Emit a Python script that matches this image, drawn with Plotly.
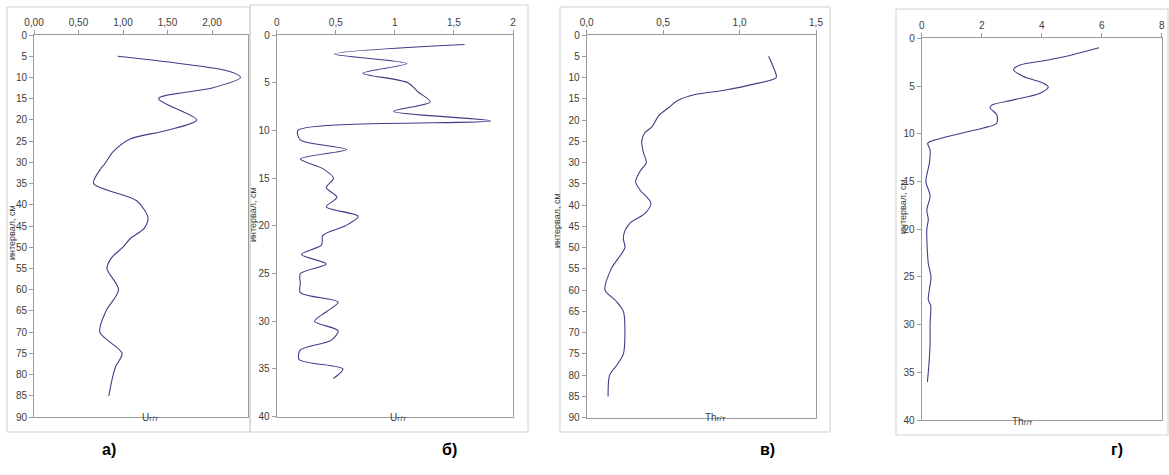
import plotly.graph_objects as go

W, H = 1169, 475

# --- data: depth interval (cm) and concentration (g/t) ---
a_depth = [5, 8.6, 10, 12.5, 15, 20, 22.5, 24.5, 27.5, 30.5, 31.5, 35, 39, 43, 45.5, 48, 50, 52.5, 55, 60, 65, 70, 75, 78, 80, 85]
a_u = [0.94, 2.20, 2.32, 2.0, 1.40, 1.83, 1.49, 1.08, 0.89, 0.79, 0.75, 0.67, 1.15, 1.28, 1.24, 1.08, 1.0, 0.87, 0.82, 0.95, 0.81, 0.74, 0.99, 0.92, 0.89, 0.84]

b_depth = list(range(1, 37))
b_u = [1.59, 0.49, 1.10, 0.73, 1.11, 1.20, 1.30, 0.99, 1.81, 0.18,
       0.20, 0.59, 0.20, 0.39, 0.48, 0.42, 0.51, 0.42, 0.69, 0.58,
       0.39, 0.38, 0.21, 0.42, 0.20, 0.20, 0.20, 0.52, 0.42, 0.32,
       0.52, 0.46, 0.20, 0.19, 0.56, 0.48]

c_depth = [5, 7.5, 10, 11.5, 13, 14, 15.5, 17, 19, 21.5, 23, 25, 27.5, 30, 32, 34.5, 36.5, 39.5, 42, 44, 46, 48, 50, 55, 60, 62.5, 65, 70, 75, 77.5, 80, 85]
c_th = [1.19, 1.22, 1.24, 1.10, 0.90, 0.71, 0.59, 0.54, 0.47, 0.43, 0.38, 0.36, 0.37, 0.39, 0.35, 0.32, 0.35, 0.42, 0.38, 0.29, 0.25, 0.24, 0.25, 0.16, 0.12, 0.19, 0.24, 0.25, 0.24, 0.20, 0.15, 0.14]

d_depth = [1, 1.75, 2.3, 2.8, 3.3, 4.0, 4.7, 5.1, 5.75, 6.45, 7.0, 7.3, 8.0, 8.9, 9.4, 9.9, 10.6, 11, 11.7, 13, 15, 16.5, 18, 19, 20, 23.6, 25, 27.4, 28, 30, 32, 35, 36]
d_th = [5.91, 5.0, 4.17, 3.28, 3.06, 3.39, 4.06, 4.22, 3.94, 3.06, 2.33, 2.28, 2.5, 2.5, 2.06, 1.39, 0.5, 0.2, 0.28, 0.26, 0.14, 0.28, 0.17, 0.22, 0.17, 0.22, 0.31, 0.22, 0.30, 0.28, 0.28, 0.22, 0.19]

# tick values / labels
a_xt = [0, 0.5, 1.0, 1.5, 2.0]
a_xl = ["0,00", "0,50", "1,00", "1,50", "2,00"]
b_xt = [0, 0.5, 1, 1.5, 2]
b_xl = ["0", "0,5", "1", "1,5", "2"]
c_xt = [0, 0.5, 1.0, 1.5]
c_xl = ["0,0", "0,5", "1,0", "1,5"]
d_xt = [0, 2, 4, 6, 8]
d_xl = ["0", "2", "4", "6", "8"]
y90 = list(range(0, 95, 5))
y40 = list(range(0, 45, 5))

y_title = "интервал, см"
u_title = "U<span style='font-size:8px'>г/т</span>"
th_title = "Th<span style='font-size:8px'>г/т</span>"
panel_tags = ["а)", "б)", "в)", "г)"]

LINE = "#3e3e88"
AX = "#9c9c9c"
TXT = "#3c3c3c"
FONT = "Liberation Sans, Arial, sans-serif"


def fx(px):
    return px / W


def fy(py):
    return 1 - py / H


# panel geometry in pixels: plot area (x0, x1, ytop, ybottom)
panels = [
    dict(x=(34, 247.6), y=(35, 417), xr=[0, 2.4], yr=[90, 0], xt=a_xt, xl=a_xl, yt=y90,
         data=(a_u, a_depth)),
    dict(x=(276.7, 513), y=(35, 416.7), xr=[0, 2], yr=[40, 0], xt=b_xt, xl=b_xl, yt=y40,
         data=(b_u, b_depth)),
    dict(x=(586.7, 816), y=(35, 417.7), xr=[0, 1.5], yr=[90, 0], xt=c_xt, xl=c_xl, yt=y90,
         data=(c_th, c_depth)),
    dict(x=(921.7, 1161.7), y=(38.3, 420), xr=[0, 8], yr=[40, 0], xt=d_xt, xl=d_xl, yt=y40,
         data=(d_th, d_depth)),
]

fig = go.Figure()
layout = dict(
    template="none",
    width=W, height=H, margin=dict(l=0, r=0, t=0, b=0, pad=0),
    paper_bgcolor="white", plot_bgcolor="white", showlegend=False,
    font=dict(family=FONT, size=10, color=TXT),
)

for i, p in enumerate(panels, start=1):
    sx = "" if i == 1 else str(i)
    xs, ys = p["data"]
    fig.add_trace(go.Scatter(
        x=xs, y=ys, mode="lines", xaxis="x" + sx, yaxis="y" + sx,
        line=dict(color=LINE, width=1.1, shape="spline", smoothing=0.8),
        hoverinfo="skip",
    ))
    common = dict(showline=True, linecolor=AX, linewidth=1, mirror=True,
                  ticks="outside", ticklen=4, tickcolor=AX, tickwidth=1,
                  showgrid=False, zeroline=False, automargin=False,
                  tickfont=dict(size=10, color=TXT, family=FONT))
    layout["xaxis" + sx] = dict(
        domain=[fx(p["x"][0]), fx(p["x"][1])], range=p["xr"], side="top",
        anchor="y" + sx, tickvals=p["xt"], ticktext=p["xl"], **common)
    layout["yaxis" + sx] = dict(
        domain=[fy(p["y"][1]), fy(p["y"][0])], range=p["yr"],
        anchor="x" + sx, tickvals=p["yt"], **common)

fig.update_layout(**layout)

# chart-area frames around each panel
frames = [(7, 250, 7, 432), (250, 528, 5, 432), (560, 830, 7, 432), (896, 1168, 9, 435)]
for x0, x1, y0, y1 in frames:
    fig.add_shape(type="rect", xref="paper", yref="paper",
                  x0=fx(x0), x1=fx(x1), y0=fy(y1), y1=fy(y0),
                  line=dict(color="#cfcfcf", width=1), layer="below")

# vertical axis titles
for xc, yc in [(5, 233), (246, 215), (557, 221), (910, 207)]:
    fig.add_annotation(x=fx(xc), y=fy(yc), xref="paper", yref="paper",
                       text=y_title, textangle=-90, showarrow=False,
                       font=dict(size=9, color=TXT, family=FONT))

# horizontal axis titles
for xc, yc, t in [(140, 425, u_title), (398, 425, u_title), (715, 425, th_title), (1035, 429, th_title)]:
    fig.add_annotation(x=fx(xc), y=fy(yc), xref="paper", yref="paper",
                       text=t, showarrow=False,
                       font=dict(size=10, color=TXT, family=FONT))

# panel tags
for xc, t in zip([100, 449, 767, 1125], panel_tags):
    fig.add_annotation(x=fx(xc), y=fy(460), xref="paper", yref="paper",
                       text="<b>" + t + "</b>", showarrow=False,
                       font=dict(size=16, color="black", family=FONT))

fig.write_html("out.html")
